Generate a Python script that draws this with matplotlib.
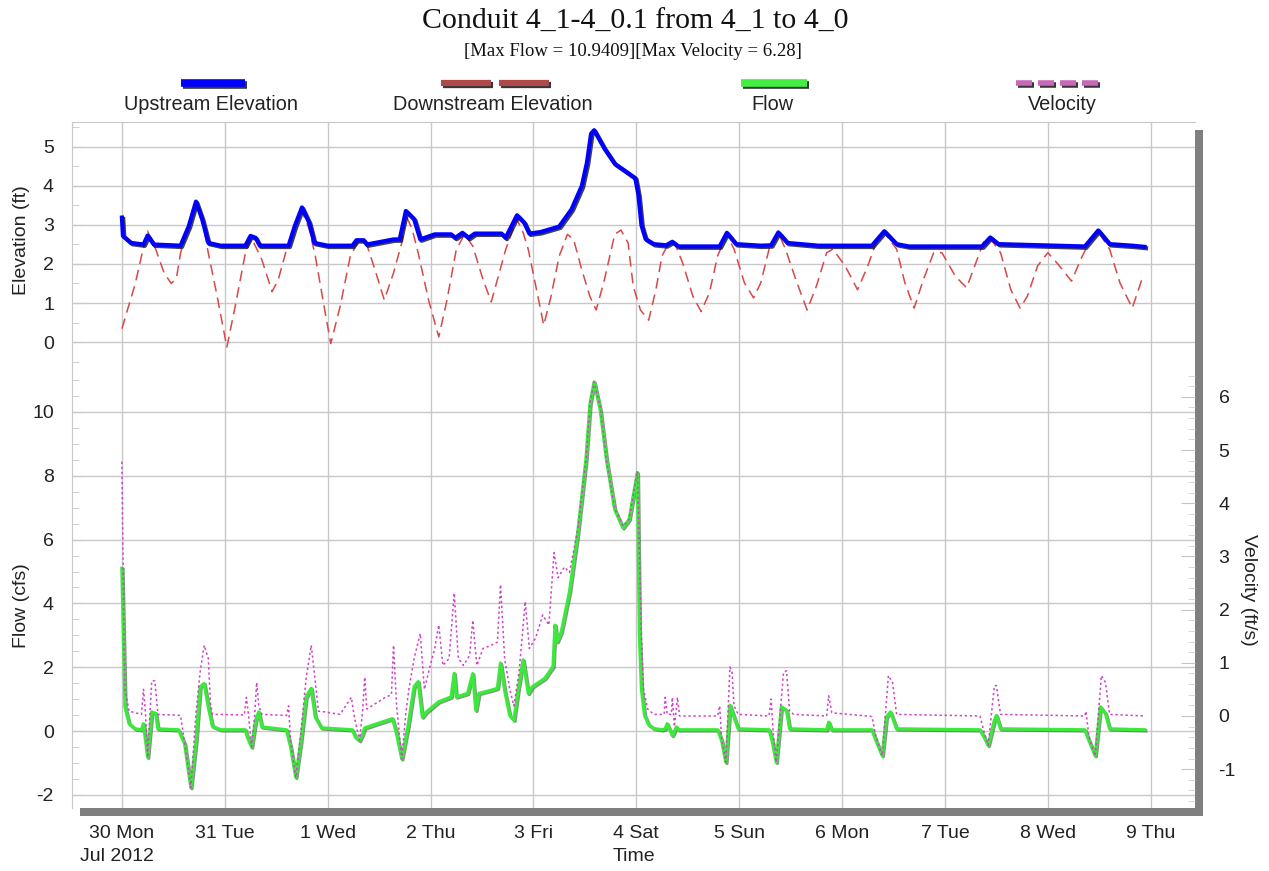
import matplotlib
matplotlib.use("Agg")
import matplotlib.pyplot as plt
import matplotlib.patheffects as pe
from matplotlib.patches import Rectangle
from matplotlib.lines import Line2D
from matplotlib.ticker import MultipleLocator

plt.rcParams["axes.unicode_minus"] = False

# ---------------- data (time in days from 30 Jun 2012 00:00) ----------------
day_labels = ["30 Mon", "31 Tue", "1 Wed", "2 Thu", "3 Fri", "4 Sat",
              "5 Sun", "6 Mon", "7 Tue", "8 Wed", "9 Thu"]

up_t = [0, .01, .09, .21, .25, .31, .57, .65, .72, .78, .84, .96,
        1.2, 1.25, 1.30, 1.34, 1.62, 1.68, 1.75, 1.82, 1.87, 2.0,
        2.24, 2.28, 2.35, 2.38, 2.64, 2.70, 2.76, 2.84, 2.9, 3.04,
        3.2, 3.24, 3.31, 3.37, 3.43, 3.69, 3.73, 3.84, 3.91, 3.96,
        4.07, 4.25, 4.37, 4.47, 4.52, 4.56, 4.59, 4.69, 4.79, 4.91,
        4.99, 5.02, 5.05, 5.09, 5.17, 5.29, 5.35, 5.41, 5.81, 5.88,
        5.97, 6.21, 6.31, 6.38, 6.47, 6.77, 7.29, 7.41, 7.53, 7.65,
        8.36, 8.44, 8.52, 9.36, 9.49, 9.6, 9.82, 9.94]
up_v = [3.19, 2.72, 2.54, 2.5, 2.73, 2.5, 2.47, 2.97, 3.6, 3.15, 2.54, 2.47,
        2.47, 2.72, 2.67, 2.47, 2.47, 2.97, 3.45, 3.06, 2.54, 2.47,
        2.47, 2.61, 2.61, 2.5, 2.63, 2.63, 3.36, 3.15, 2.63, 2.76,
        2.76, 2.67, 2.8, 2.67, 2.78, 2.78, 2.67, 3.25, 3.06, 2.78,
        2.82, 2.96, 3.4, 4.0, 4.6, 5.34, 5.43, 4.96, 4.57, 4.35,
        4.2, 3.77, 2.99, 2.64, 2.51, 2.48, 2.57, 2.45, 2.45, 2.8,
        2.51, 2.47, 2.48, 2.81, 2.54, 2.47, 2.47, 2.84, 2.51, 2.45,
        2.45, 2.68, 2.51, 2.45, 2.86, 2.51, 2.47, 2.44]

dn_t = [0, .13, .19, .25, .33, .41, .48, .53, .57, .65, .72, .79, .84, .92,
        1.02, 1.10, 1.2, 1.26, 1.36, 1.46, 1.52, 1.6, 1.68, 1.75, 1.82, 1.88,
        1.96, 2.03, 2.12, 2.22, 2.3, 2.38, 2.46, 2.55, 2.64, 2.72, 2.76, 2.82,
        2.88, 2.98, 3.08, 3.16, 3.25, 3.33, 3.41, 3.51, 3.59, 3.65, 3.73, 3.84,
        3.90, 3.95, 4.03, 4.1, 4.17, 4.25, 4.33, 4.39, 4.47, 4.55, 4.61, 4.69,
        4.79, 4.85, 4.92, 4.97, 5.04, 5.12, 5.19, 5.25, 5.31, 5.37, 5.45, 5.55,
        5.63, 5.71, 5.79, 5.88, 5.95, 6.05, 6.14, 6.21, 6.29, 6.38, 6.45, 6.55,
        6.66, 6.75, 6.85, 6.91, 7.03, 7.15, 7.25, 7.33, 7.41, 7.53, 7.61, 7.7,
        7.79, 7.89, 7.97, 8.1, 8.21, 8.3, 8.38, 8.44, 8.54, 8.64, 8.73, 8.8,
        8.9, 9.0, 9.1, 9.23, 9.32, 9.4, 9.49, 9.6, 9.7, 9.82, 9.92]
dn_v = [0.34, 1.5, 2.2, 2.84, 2.37, 1.77, 1.5, 1.64, 2.28, 3.0, 3.5, 3.0, 2.28, 1.25,
        -0.13, 0.9, 2.28, 2.67, 2.11, 1.29, 1.6, 2.37, 2.95, 3.35, 2.9, 2.2,
        0.99, -0.04, 0.9, 2.2, 2.59, 2.5, 1.85, 1.08, 1.77, 2.54, 3.25, 2.9,
        2.28, 1.08, 0.13, 1.08, 2.37, 2.76, 2.46, 1.6, 1.03, 1.6, 2.37, 3.15,
        2.8, 2.37, 1.34, 0.43, 1.16, 2.2, 2.76, 2.63, 1.85, 1.16, 0.82, 1.6,
        2.76, 2.87, 2.54, 1.43, 0.82, 0.56, 1.34, 2.21, 2.51, 2.55, 2.03, 1.17,
        0.78, 1.26, 2.21, 2.75, 2.38, 1.52, 1.13, 1.52, 2.38, 2.8, 2.38, 1.6,
        0.82, 1.43, 2.29, 2.38, 1.95, 1.34, 1.95, 2.55, 2.8, 2.38, 1.52, 0.87,
        1.6, 2.29, 2.29, 1.69, 1.39, 2.03, 2.6, 2.65, 2.29, 1.34, 0.87, 1.17,
        1.95, 2.29, 1.99, 1.56, 2.12, 2.55, 2.82, 2.38, 1.52, 0.87, 1.65]

fl_t = [0, .03, .07, .13, .19, .21, .25, .29, .33, .35, .55, .61, .67, .72, .76,
        .80, .84, .88, .96, 1.2, 1.22, 1.26, 1.3, 1.33, 1.36, 1.6, 1.64, 1.69,
        1.74, 1.79, 1.84, 1.88, 1.94, 2.24, 2.27, 2.31, 2.34, 2.36, 2.63, 2.67,
        2.72, 2.78, 2.84, 2.88, 2.92, 2.96, 3.08, 3.2, 3.23, 3.25, 3.36, 3.41,
        3.44, 3.47, 3.59, 3.65, 3.68, 3.72, 3.77, 3.81, 3.85, 3.90, 3.95, 3.99,
        4.11, 4.19, 4.21, 4.23, 4.27, 4.35, 4.43, 4.51, 4.55, 4.59, 4.65, 4.71,
        4.79, 4.87, 4.93, 5.01, 5.03, 5.05, 5.08, 5.12, 5.17, 5.25, 5.28, 5.3,
        5.35, 5.39, 5.41, 5.79, 5.83, 5.87, 5.91, 5.95, 5.99, 6.29, 6.32, 6.36,
        6.41, 6.46, 6.49, 6.85, 6.87, 6.9, 7.29, 7.33, 7.39, 7.43, 7.47, 7.53,
        8.34, 8.38, 8.42, 8.48, 8.5, 8.54, 9.36, 9.4, 9.46, 9.51, 9.56, 9.6, 9.94]
fl_v = [5.1, 0.76, 0.23, 0.07, 0.04, 0.23, -0.82, 0.6, 0.55, 0.07, 0.04, -0.4,
        -1.77, -0.3, 1.39, 1.49, 0.76, 0.15, 0.04, 0.04, -0.19, -0.5, 0.34, 0.6,
        0.13, 0.04, -0.5, -1.45, -0.3, 1.07, 1.34, 0.44, 0.1, 0.04, -0.19, -0.3,
        -0.08, 0.1, 0.39, -0.08, -0.87, 0.13, 1.39, 1.55, 0.44, 0.6, 0.92, 1.07,
        1.81, 1.07, 1.18, 1.8, 0.65, 1.18, 1.28, 1.34, 2.13, 1.28, 0.49, 0.34,
        1.28, 2.23, 1.18, 1.39, 1.65, 2.02, 3.32, 2.8, 3.1, 4.35, 6.2, 8.5,
        10.26, 10.94, 10.05, 8.5, 6.94, 6.37, 6.63, 8.1, 3.0, 1.3, 0.5, 0.2,
        0.08, 0.04, 0.07, 0.23, -0.14, 0.13, 0.04, 0.04, -0.3, -0.98, 0.81, 0.44,
        0.07, 0.04, -0.3, -0.98, 0.76, 0.65, 0.07, 0.04, 0.28, 0.04, 0.04, -0.3,
        -0.77, 0.44, 0.6, 0.07, 0.04, -0.19, -0.45, 0.34, 0.49, 0.07, 0.04, -0.3,
        -0.77, 0.76, 0.55, 0.07, 0.04]

vl_t = [0, .02, .03, .07, .19, .21, .23, .25, .27, .29, .32, .35, .57, .61, .67,
        .72, .76, .80, .84, .86, .88, 1.19, 1.21, 1.23, 1.26, 1.29, 1.31, 1.33,
        1.36, 1.6, 1.62, 1.64, 1.69, 1.74, 1.79, 1.84, 1.87, 1.91, 1.96, 2.12,
        2.23, 2.26, 2.31, 2.34, 2.36, 2.38, 2.56, 2.62, 2.64, 2.67, 2.72, 2.76,
        2.79, 2.84, 2.9, 2.94, 2.98, 3.04, 3.08, 3.12, 3.18, 3.23, 3.27, 3.32,
        3.38, 3.41, 3.45, 3.51, 3.59, 3.65, 3.68, 3.72, 3.77, 3.81, 3.86, 3.92,
        3.96, 4.02, 4.09, 4.15, 4.2, 4.24, 4.3, 4.35, 4.43, 4.51, 4.55, 4.59,
        4.65, 4.71, 4.79, 4.87, 4.93, 5.01, 5.05, 5.07, 5.11, 5.17, 5.27, 5.28,
        5.3, 5.34, 5.35, 5.37, 5.4, 5.42, 5.79, 5.81, 5.83, 5.87, 5.91, 5.93,
        5.95, 5.99, 6.29, 6.31, 6.33, 6.36, 6.43, 6.46, 6.49, 6.53, 6.85, 6.87,
        6.9, 7.29, 7.33, 7.39, 7.45, 7.49, 7.53, 8.34, 8.38, 8.42, 8.48, 8.5,
        8.54, 9.36, 9.37, 9.4, 9.46, 9.52, 9.56, 9.6, 9.94]
vl_v = [4.78, 1.46, 0.5, 0.09, 0.03, 0.5, 0.03, -0.78, -0.06, 0.66, 0.66, 0.03,
        0.01, -0.5, -1.35, 0.06, 0.82, 1.33, 1.08, 0.25, 0.03, 0.02, 0.35, 0.03,
        -0.58, 0.0, 0.63, 0.2, 0.03, 0.01, 0.19, -0.5, -1.16, -0.3, 0.7, 1.33,
        0.82, 0.09, 0.08, 0.03, 0.35, -0.03, -0.46, 0.1, 0.73, 0.13, 0.35, 0.4,
        1.33, 0.19, -0.81, 0.06, 0.51, 1.08, 1.55, 0.5, 0.82, 1.27, 1.71, 0.95,
        1.08, 2.31, 1.08, 0.95, 1.14, 1.8, 0.95, 1.27, 1.33, 1.39, 2.47, 1.08,
        0.5, 0.19, 0.82, 2.15, 1.27, 1.46, 1.9, 1.71, 3.07, 2.6, 2.8, 2.7,
        3.5, 4.8, 5.9, 6.28, 5.8, 4.8, 3.9, 3.57, 3.7, 4.6, 1.46, 0.5,
        0.13, 0.03, 0.03, 0.35, 0.03, 0.03, 0.35, -0.2, 0.35, 0.0, 0.0, 0.19,
        -0.46, -0.87, 0.92, 0.82, 0.19, 0.03, 0.0, 0.32, -0.3, -0.87, 0.82, 0.85,
        0.09, 0.03, 0.0, 0.38, 0.06, -0.01, -0.4, -0.75, 0.76, 0.63, 0.03, 0.0,
        -0.3, -0.55, 0.57, 0.57, 0.03, 0.0, 0.09, -0.4, -0.75, 0.76, 0.63, 0.03, 0.0]

title = "Conduit 4_1-4_0.1 from 4_1 to 4_0"
subtitle = "[Max Flow = 10.9409][Max Velocity = 6.28]"

# ---------------- layout ----------------
W, H = 1269, 871
fig = plt.figure(figsize=(W / 100, H / 100), dpi=100)
fig.patch.set_facecolor("white")

def fx(px):
    return px / W

def fy(py):
    return 1 - py / H

L, R, T, B, M = 72, 1195, 122, 808, 366
SANS = ["Liberation Sans", "DejaVu Sans"]
SERIF = ["Liberation Serif", "DejaVu Serif"]
TXT = "#222222"
GRID = "#c8c8c8"

# drop shadow of the plotting panel
fig.patches.append(Rectangle((fx(L + 8), fy(B + 8)), fx(R) - fx(L), fy(T + 8) - fy(B + 8),
                             transform=fig.transFigure, facecolor="#7f7f7f",
                             edgecolor="none", zorder=-5))

ax_top = fig.add_axes([fx(L), fy(M), fx(R) - fx(L), fy(T) - fy(M)])
ax_bot = fig.add_axes([fx(L), fy(B), fx(R) - fx(L), fy(M) - fy(B)], sharex=ax_top)
ax_vel = ax_bot.twinx()

xmin, xmax = -0.485, 10.43
ax_top.set_xlim(xmin, xmax)
ax_top.set_ylim(-0.615, 5.64)
ax_bot.set_ylim(-2.41, 11.44)
ax_vel.set_ylim(-1.73, 6.58)

for a in (ax_top, ax_bot):
    a.set_facecolor("white")
    for s in a.spines.values():
        s.set_visible(False)
    a.spines["left"].set_visible(True)
    a.spines["left"].set_color(GRID)
    a.set_axisbelow(True)
    a.grid(True, color=GRID, lw=1.0)
ax_top.spines["top"].set_visible(True)
ax_top.spines["top"].set_color(GRID)
for s in ax_vel.spines.values():
    s.set_visible(False)

ax_top.set_xticks(range(len(day_labels)))
ax_top.tick_params(axis="x", which="both", length=0, labelbottom=False)
ax_bot.tick_params(axis="x", which="both", length=0, pad=12, labelsize=14,
                   labelcolor=TXT)
ax_bot.set_xticklabels(day_labels, fontfamily=SANS)

ax_top.yaxis.set_major_locator(MultipleLocator(1))
ax_top.yaxis.set_minor_locator(MultipleLocator(0.5))
ax_bot.yaxis.set_major_locator(MultipleLocator(2))
ax_bot.yaxis.set_minor_locator(MultipleLocator(0.5))
for a in (ax_top, ax_bot):
    a.tick_params(axis="y", which="major", direction="in", length=8, color=GRID,
                  pad=13, labelsize=14, labelcolor=TXT)
    a.tick_params(axis="y", which="minor", direction="in", length=5, color=GRID)
    for lab in a.get_yticklabels():
        lab.set_fontfamily(SANS)
ax_top.set_yticks([0, 1, 2, 3, 4, 5])

ax_vel.yaxis.set_major_locator(MultipleLocator(1))
ax_vel.yaxis.set_minor_locator(MultipleLocator(0.2))
ax_vel.tick_params(axis="y", which="major", direction="in", length=10, color="#c4c4c4",
                   pad=17, labelsize=14, labelcolor=TXT)
ax_vel.tick_params(axis="y", which="minor", direction="in", length=5, color="#d0d0d0")
for lab in ax_vel.get_yticklabels():
    lab.set_fontfamily(SANS)

# ---------------- series ----------------
shadow = [pe.SimpleLineShadow(offset=(1.0, -1.0), shadow_color="#101030", alpha=0.8),
          pe.Normal()]
gshadow = [pe.SimpleLineShadow(offset=(0.8, -0.8), shadow_color="#206020", alpha=0.6),
           pe.Normal()]

ax_top.plot(dn_t, dn_v, color="#d84848", lw=1.1, dashes=(7, 4), zorder=3)
ax_top.plot(up_t, up_v, color="#0000ff", lw=3.0, zorder=4, path_effects=shadow,
            solid_joinstyle="round")

ax_bot.plot(fl_t, fl_v, color="#3de83d", lw=2.4, zorder=3, path_effects=gshadow,
            solid_joinstyle="round")
ax_vel.plot(vl_t, vl_v, color="#d040c8", lw=1.1, dashes=(1.5, 1.8), zorder=4)

# ---------------- legend (sample above label) ----------------
leg_y = fy(83)
lab_y = fy(104)

def seg(x0, x1, color, lw, shadowed=True):
    ln = Line2D([fx(x0), fx(x1)], [leg_y, leg_y], transform=fig.transFigure,
                color=color, lw=lw, solid_capstyle="butt")
    if shadowed:
        ln.set_path_effects([pe.SimpleLineShadow(offset=(1.2, -1.2),
                                                 shadow_color="#202020", alpha=0.9),
                             pe.Normal()])
    fig.lines.append(ln)

seg(181, 245, "#0000ff", 5.5)
seg(441, 491, "#b04a4a", 4.5)
seg(499, 549, "#b04a4a", 4.5)
seg(741, 807, "#44ee44", 5.5)
for x0 in (1016, 1038, 1060, 1082):
    seg(x0, x0 + 16, "#c868b8", 4.0)

leg_names = ["Upstream Elevation", "Downstream Elevation", "Flow", "Velocity"]
leg_x = [211, 493, 772, 1062]
for name, x in zip(leg_names, leg_x):
    fig.text(fx(x), lab_y, name, ha="center", va="center", fontsize=14.3,
             family=SANS, color=TXT)

# ---------------- titles and labels ----------------
fig.text(fx(635), fy(22), title, ha="center", va="center", fontsize=21.5,
         family=SERIF, color="#111111")
fig.text(fx(633), fy(52), subtitle, ha="center", va="center", fontsize=13.5,
         family=SERIF, color="#111111")
fig.text(fx(22), fy(240), "Elevation (ft)", rotation=90, ha="center", va="center",
         fontsize=14, family=SANS, color=TXT)
fig.text(fx(22), fy(606), "Flow (cfs)", rotation=90, ha="center", va="center",
         fontsize=14, family=SANS, color=TXT)
fig.text(fx(1248), fy(590), "Velocity (ft/s)", rotation=270, ha="center", va="center",
         fontsize=14, family=SANS, color=TXT)
fig.text(fx(634), fy(856), "Time", ha="center", va="center", fontsize=14,
         family=SANS, color=TXT)
fig.text(fx(80), fy(856), "Jul 2012", ha="left", va="center", fontsize=14,
         family=SANS, color=TXT)

fig.savefig("out.png", dpi=100, facecolor="white")
